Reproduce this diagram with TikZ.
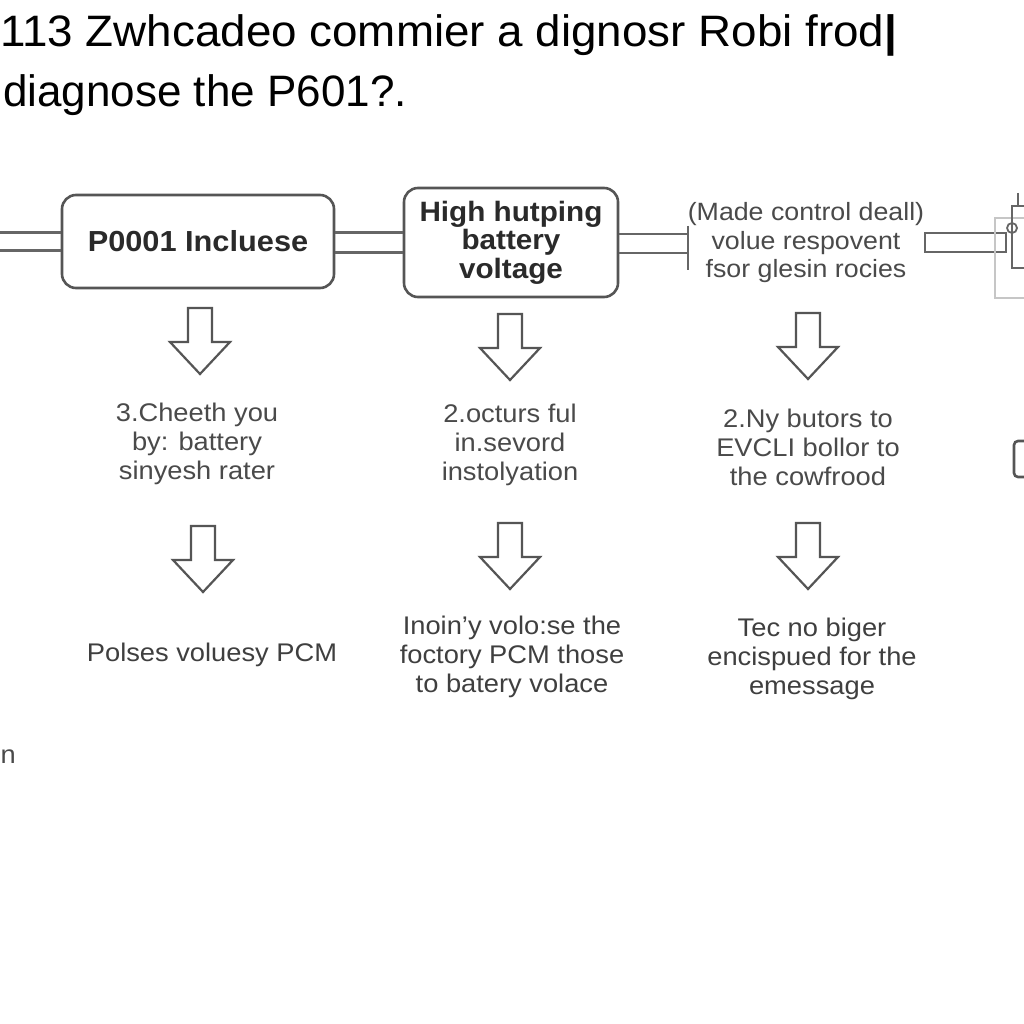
\documentclass[tikz,border=0pt]{standalone}
\usepackage{fontspec}
\setmainfont{Liberation Sans}
\usetikzlibrary{calc}
\definecolor{boxline}{HTML}{555555}
\definecolor{txtdark}{HTML}{2A2A2A}
\definecolor{txtgrey}{HTML}{4A4A4A}
\tikzset{
  flowbox/.style={draw=boxline, line width=2.6pt, rounded corners=14pt, fill=white, align=center, text=txtdark, font=\fontsize{28}{29}\selectfont\bfseries},
  plaintxt/.style={align=center, text=txtgrey, font=\fontsize{25.5}{29}\selectfont, inner sep=0pt, xscale=1.07},
  pipe/.style={draw=boxline!90, line width=2.2pt},
  hollowarrow/.pic={\draw[draw=boxline, line width=2.2pt, line join=miter, fill=white] (-12,0) -- (12,0) -- (12,34) -- (30,34) -- (0,66) -- (-30,34) -- (-12,34) -- cycle;}
}
\begin{document}
\begin{tikzpicture}[x=1pt,y=-1pt]
\useasboundingbox (0,0) rectangle (1024,1024);
\fill[white] (0,0) rectangle (1024,1024);
\clip (0,0) rectangle (1024,1024);

% title
\node[anchor=west, inner sep=0pt, text=black, font=\fontsize{44}{46}\selectfont, xscale=1.04] (title1) at (0,35) {113 Zwhcadeo commier a dignosr Robi frod\textbf{|}};
\node[anchor=west, inner sep=0pt, text=black, font=\fontsize{44}{46}\selectfont, xscale=1.0] (title2) at (3,95) {diagnose the P601?.};

% top row
\node[flowbox, minimum width=272pt, minimum height=93pt, inner sep=0pt, font=\fontsize{29}{29}\selectfont\bfseries] (b1) at (198,241.5) {\scalebox{1.06}[1]{P0001 Incluese}};
\node[flowbox, minimum width=214pt, minimum height=109pt, inner sep=0pt, font=\fontsize{28}{28.5}\selectfont\bfseries] (b2) at (511,242.5) {\scalebox{1.06}[1]{High hutping}\\\scalebox{1.06}[1]{battery}\\\scalebox{1.06}[1]{voltage}};
\node[plaintxt, text=txtdark!85, font=\fontsize{25}{28.5}\selectfont, xscale=1.0] (t3) at (806,243) {(Made control deall)\\volue respovent\\fsor glesin rocies};

\coordinate (leftend) at (0,241.5);
\coordinate (brk) at (688,243);
\draw[pipe] ($(leftend)+(0,-9)$) -- ($(b1.west)+(0,-9)$);
\draw[pipe] ($(leftend)+(0,9)$) -- ($(b1.west)+(0,9)$);
\draw[pipe] ($(b1.east)+(0,-9)$) -- ($(b2.west)+(0,-10)$);
\draw[pipe] ($(b1.east)+(0,11)$) -- ($(b2.west)+(0,10)$);
\draw[pipe] ($(b2.east)+(0,-8.5)$) -- ($(brk)+(0,-9)$);
\draw[pipe] ($(b2.east)+(0,10.5)$) -- ($(brk)+(0,10)$);
\draw[pipe] ($(brk)+(0,-17)$) -- ($(brk)+(0,27)$);

% right pipe and partial shapes
\coordinate (rp) at (925,233);
\draw[pipe, line width=2.4pt] (rp) rectangle (1006,252);
\draw[draw=gray!45, line width=1.4pt] (1030,218) -- (995,218) -- (995,298) -- (1030,298);
\draw[pipe, line width=2.6pt] (1030,206) -- (1012,206) -- (1012,268) -- (1030,268);
\draw[pipe, line width=2.2pt] (1018,193) -- (1018,206);
\draw[pipe, line width=1.8pt] (1012,228) circle (5);
\draw[draw=boxline, line width=2.6pt, rounded corners=4pt] (1035,441) -- (1014,441) -- (1014,477) -- (1035,477);

% arrows row 1
\pic at (200,308) {hollowarrow};
\pic at (510,314) {hollowarrow};
\pic at (808,313) {hollowarrow};

% middle texts
\node[plaintxt] (m1) at (197,444) {3.Cheeth you\\by: battery\\sinyesh rater};
\node[plaintxt] (m2) at (510,445) {2.octurs ful\\in.sevord\\instolyation};
\node[plaintxt] (m3) at (808,447) {2.Ny butors to\\EVCLI bollor to\\the cowfrood};

% arrows row 2
\pic at (203,526) {hollowarrow};
\pic at (510,523) {hollowarrow};
\pic at (808,523) {hollowarrow};

% bottom texts
\node[plaintxt, text=txtdark!90] (n1) at (212,655) {Polses voluesy PCM};
\node[plaintxt, text=txtdark!90] (n2) at (512,657) {Inoin'y volo:se the\\foctory PCM those\\to batery volace};
\node[plaintxt, text=txtdark!90] (n3) at (812,659) {Tec no biger\\encispued for the\\emessage};

\node[plaintxt, anchor=west, text=txtgrey] (edge) at (0.5,757) {n};
\end{tikzpicture}
\end{document}
